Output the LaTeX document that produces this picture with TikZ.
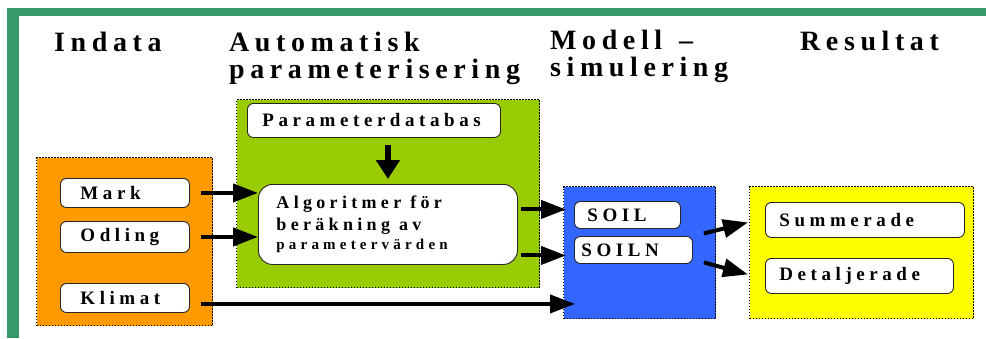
\documentclass[tikz,border=0pt]{standalone}
\usepackage{fontspec}
\setmainfont{Liberation Serif}
\newfontfamily\ttlfont[LetterSpace=20]{Liberation Serif}
\newfontfamily\lblfont[LetterSpace=24]{Liberation Serif}
\newfontfamily\smlfont[LetterSpace=28]{Liberation Serif}
\usetikzlibrary{arrows.meta}
\definecolor{frame}{HTML}{36996A}
\definecolor{orng}{HTML}{FF9900}
\definecolor{lime}{HTML}{99CC00}
\definecolor{boxblue}{HTML}{3366FF}
\definecolor{boxyel}{HTML}{FFFF00}

\begin{document}
\begin{tikzpicture}[x=1pt, y=-1pt,
  ttl/.style={anchor=base west, inner sep=0pt, align=left,
              font=\ttlfont\bfseries\fontsize{28}{27}\selectfont},
  grp/.style={draw=black, dash pattern=on 1.5pt off 1.5pt, line width=1.3pt,
              anchor=north west, inner sep=0pt},
  lbl/.style={draw=black!85, line width=0.9pt, fill=white, rounded corners=6pt,
              anchor=north west, inner ysep=0pt, align=left,
              font=\lblfont\bfseries\fontsize{19}{22}\selectfont},
  arr/.style={line width=4pt, -{Triangle[length=25pt, width=18pt]}},
]
  \useasboundingbox (0,0) rectangle (986,338);
  % green frame, top and left
  \fill[frame] (7,8) rectangle (986,16);
  \fill[frame] (7,8) rectangle (19,338);

  % column heads (base = last line)
  \node[ttl] (tin) at (54,51) {Indata};
  \node[ttl] (tpar) at (229,78) {Automatisk\\parameterisering};
  \node[ttl] (tsim) at (550,76) {Modell\hspace{0.6em}–\\simulering};
  \node[ttl] (tres) at (800,50) {Resultat};

  % coloured groups
  \node[grp, fill=orng, minimum width=176pt, minimum height=168pt] (indata) at (36,157) {};
  \node[grp, fill=lime, minimum width=303pt, minimum height=188pt] (param) at (236,99) {};
  \node[grp, fill=boxblue, minimum width=152pt, minimum height=132pt] (model) at (563,186) {};
  \node[grp, fill=boxyel, minimum width=224pt, minimum height=132pt] (result) at (749,186) {};

  % boxes
  \node[lbl, inner xsep=15pt, text width=223pt, minimum height=34pt] (pdb) at (247,103) {Parameterdatabas};
  \node[lbl, inner xsep=20pt, text width=89pt, minimum height=29pt] (mark) at (60,178) {Mark};
  \node[lbl, inner xsep=20pt, text width=89pt, minimum height=31pt] (odling) at (60,221) {Odling};
  \node[lbl, inner xsep=20pt, text width=89pt, minimum height=29pt] (klimat) at (60,283) {Klimat};
  \node[lbl, rounded corners=14pt, inner xsep=18pt, text width=223pt, minimum height=80pt,
        font=\lblfont\bfseries\fontsize{18}{22}\selectfont] (algo) at (258,184)
       {Algoritmer\hspace{0.5em}för\\beräkning\hspace{0.5em}av\\[-3pt]{\smlfont\bfseries\fontsize{15}{17}\selectfont parametervärden}};
  \node[lbl, inner xsep=13pt, text width=80pt, minimum height=27pt] (soil) at (574,201) {SOIL};
  \node[lbl, inner xsep=7pt, text width=104pt, minimum height=27pt] (soiln) at (574,236) {SOILN};
  \node[lbl, inner xsep=14pt, text width=171pt, minimum height=35pt] (summ) at (765,202) {Summerade};
  \node[lbl, inner xsep=14pt, text width=160pt, minimum height=35pt] (detal) at (765,258) {Detaljerade};

  % arrows
  \draw[line width=6pt, -{Triangle[length=19pt, width=23pt]}]
       ([yshift=-7pt]pdb.south -| algo.north) -- ([yshift=5pt]algo.north);
  \draw[arr] ([xshift=11pt]mark.east) -- (mark.east -| algo.west);
  \draw[arr] ([xshift=11pt]odling.east) -- (odling.east -| algo.west);
  \draw[arr] ([shift={(11pt,-6pt)}]klimat.east) -- ([shift={(12pt,-6pt)}]klimat.east -| model.west);
  \draw[arr] ([shift={(3pt,5.5pt)}]algo.east |- soil.west) -- ([shift={(-8pt,5.5pt)}]soil.west);
  \draw[arr] ([shift={(3pt,-5.5pt)}]algo.east |- soiln.west) -- ([shift={(-8pt,-5.5pt)}]soiln.west);
  \draw[arr] ([shift={(11pt,16.5pt)}]soiln.east) -- ([shift={(-17pt,-2.5pt)}]summ.west);
  \draw[arr] ([shift={(11pt,-12.5pt)}]soiln.east) -- ([shift={(-17pt,1.5pt)}]detal.west);
\end{tikzpicture}
\end{document}
